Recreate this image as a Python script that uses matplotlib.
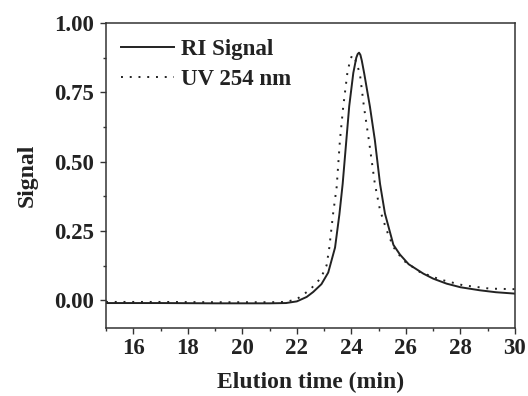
import matplotlib
matplotlib.use("Agg")
import matplotlib.pyplot as plt
from matplotlib.ticker import MultipleLocator

# Elution time (min) and detector responses
ri_time = [15.0, 17.0, 19.0, 21.0, 21.6, 22.0, 22.36, 22.6, 22.9, 23.15, 23.4,
           23.56, 23.68, 23.8, 23.92, 24.07, 24.18, 24.23, 24.28, 24.33, 24.38,
           24.47, 24.68, 24.86, 25.05, 25.23, 25.54, 25.78, 26.1, 26.64, 27.0,
           27.49, 28.0, 28.71, 29.3, 30.0]
ri_signal = [-0.010, -0.010, -0.011, -0.011, -0.010, -0.004, 0.012, 0.030,
             0.058, 0.100, 0.190, 0.310, 0.420, 0.560, 0.700, 0.820, 0.875,
             0.888, 0.893, 0.885, 0.865, 0.818, 0.698, 0.578, 0.420, 0.313,
             0.200, 0.165, 0.130, 0.096, 0.078, 0.060, 0.047, 0.036, 0.029,
             0.024]

uv_time = [15.0, 17.0, 19.0, 21.0, 21.6, 22.0, 22.48, 22.88, 23.09, 23.19,
           23.33, 23.46, 23.58, 23.70, 23.85, 23.95, 24.03, 24.12, 24.31, 24.46,
           24.64, 24.86, 25.05, 25.29, 25.54, 25.90, 26.51, 27.25, 28.1, 29.08,
           30.0]
uv_signal = [-0.006, -0.006, -0.007, -0.007, -0.006, 0.004, 0.038, 0.080,
             0.126, 0.190, 0.313, 0.409, 0.578, 0.698, 0.818, 0.865, 0.884,
             0.875, 0.818, 0.698, 0.578, 0.420, 0.325, 0.253, 0.192, 0.144,
             0.102, 0.075, 0.054, 0.042, 0.040]

x_ticks = [16, 18, 20, 22, 24, 26, 28, 30]
y_ticks = [0.00, 0.25, 0.50, 0.75, 1.00]

plt.rcParams["font.family"] = ["Liberation Serif", "DejaVu Serif"]
plt.rcParams["font.weight"] = "bold"

W, H = 528, 396
fig = plt.figure(figsize=(W / 100, H / 100), dpi=100)
ax = fig.add_axes([106 / W, 1 - 328 / H, (515 - 106) / W, (328 - 23) / H])

ink = "#222222"
ax.plot(ri_time, ri_signal, color=ink, lw=1.4, ls="-", label="RI Signal")
ax.plot(uv_time, uv_signal, color=ink, lw=1.4, ls=(0, (1, 3.5)),
        label="UV 254 nm")

ax.set_xlim(15, 30)
ax.set_ylim(-0.1, 1.0)
ax.set_xticks(x_ticks)
ax.set_yticks(y_ticks)
ax.set_yticklabels([f"{v:.2f}" for v in y_ticks])
ax.xaxis.set_minor_locator(MultipleLocator(1))
ax.yaxis.set_minor_locator(MultipleLocator(0.125))

for side in ["top", "right", "left", "bottom"]:
    ax.spines[side].set_color("#333333")
    ax.spines[side].set_linewidth(1.1)

ax.tick_params(which="both", direction="out", top=False, right=False,
               color="#333333", width=1.0)
ax.tick_params(which="major", length=4.0, labelsize=16.5, pad=3.5)
ax.tick_params(axis="y", which="major", pad=4.5)
ax.tick_params(which="minor", length=2.5)
for lab in ax.get_xticklabels() + ax.get_yticklabels():
    lab.set_fontweight("bold")
    lab.set_color(ink)

ax.set_xlabel("Elution time (min)", fontsize=17, fontweight="bold",
              color=ink, labelpad=9)
ax.set_ylabel("Signal", fontsize=17, fontweight="bold", color=ink,
              labelpad=12)

leg = ax.legend(loc="upper left", frameon=False, fontsize=16.5,
                handlelength=2.3, handletextpad=0.3, labelspacing=0.38,
                borderaxespad=0.0, borderpad=0.0,
                bbox_to_anchor=(0.037, 0.947))
for t in leg.get_texts():
    t.set_fontweight("bold")
    t.set_color(ink)

fig.savefig("out.png", dpi=100)
